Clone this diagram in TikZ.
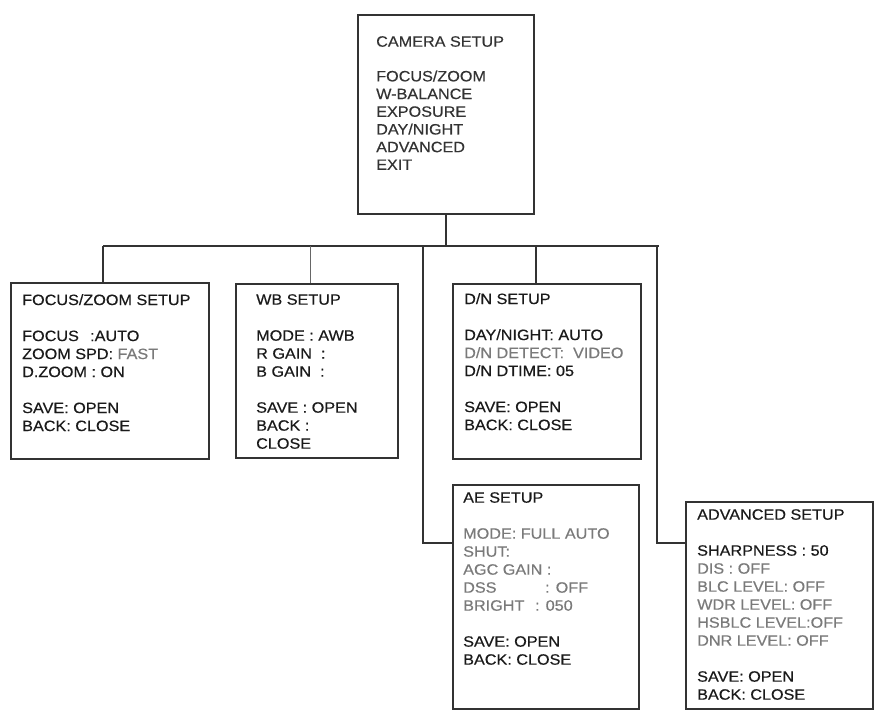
\documentclass[tikz,border=0pt]{standalone}
\usepackage{fontspec}
\setmainfont{Liberation Sans}[FakeStretch=1.08,FakeBold=0.4]
\usetikzlibrary{calc}
\definecolor{ink}{HTML}{1A1A1A}
\definecolor{dim}{HTML}{7A7A7A}
\definecolor{edge}{HTML}{333333}
\tikzset{
  box/.style={draw=edge, line width=1.6pt, rectangle, inner sep=0pt, anchor=north west},
  menu/.style={anchor=north west, inner sep=0pt, align=left, text=ink, font=\fontsize{15}{18}\selectfont},
  conn/.style={draw=edge, line width=1.6pt},
  thinconn/.style={draw=edge!75, line width=0.9pt},
  bus/.style={draw=edge, line width=2.4pt},
}
\begin{document}
\begin{tikzpicture}[x=1pt,y=-1pt]
\useasboundingbox[fill=white] (0,0) rectangle (879,715);

% boxes
\node[box, minimum width=176pt, minimum height=199pt] (cam) at (357,14) {};
\node[box, minimum width=198pt, minimum height=176pt] (fz) at (10,282) {};
\node[box, minimum width=162pt, minimum height=174pt] (wb) at (235,283) {};
\node[box, minimum width=188pt, minimum height=175pt] (dn) at (452,283) {};
\node[box, minimum width=186pt, minimum height=224pt] (ae) at (452,484) {};
\node[box, minimum width=187pt, minimum height=207pt] (adv) at (685,501) {};

% texts
\node[menu, text=edge, font=\fontsize{15}{17.7}\selectfont] (camtxt) at (376,36) {CAMERA SETUP\\[17pt]FOCUS/ZOOM\\W-BALANCE\\EXPOSURE\\DAY/NIGHT\\ADVANCED\\EXIT};
\node[menu] (fztxt) at (22,294) {FOCUS/ZOOM SETUP\\[18pt]\makebox[68pt][l]{FOCUS}:AUTO\\ZOOM SPD: \textcolor{dim}{FAST}\\D.ZOOM : ON\\[18pt]SAVE: OPEN\\BACK: CLOSE};
\node[menu] (wbtxt) at (256,294) {WB SETUP\\[18pt]MODE : AWB\\R GAIN \ :\\B GAIN \ :\\[18pt]SAVE : OPEN\\BACK :\\CLOSE};
\node[menu] (dntxt) at (464,293) {D/N SETUP\\[18pt]DAY/NIGHT: AUTO\\\textcolor{dim}{D/N DETECT: \ VIDEO}\\D/N DTIME: 05\\[18pt]SAVE: OPEN\\BACK: CLOSE};
\node[menu] (aetxt) at (463,492) {AE SETUP\\[18pt]\textcolor{dim}{MODE: FULL AUTO}\\\textcolor{dim}{SHUT:}\\\textcolor{dim}{AGC GAIN :}\\\textcolor{dim}{\makebox[82pt][l]{DSS}: OFF}\\\textcolor{dim}{\makebox[72pt][l]{BRIGHT}: 050}\\[18pt]SAVE: OPEN\\BACK: CLOSE};
\node[menu] (advtxt) at (697,509) {ADVANCED SETUP\\[18pt]SHARPNESS : 50\\\textcolor{dim}{DIS : OFF}\\\textcolor{dim}{BLC LEVEL: OFF}\\\textcolor{dim}{WDR LEVEL: OFF}\\\textcolor{dim}{HSBLC LEVEL:OFF}\\\textcolor{dim}{DNR LEVEL: OFF}\\[18pt]SAVE: OPEN\\BACK: CLOSE};

% connectors
\coordinate (busL) at (103,246);
\coordinate (busR) at (659,246);
\coordinate (aetap) at (423,246);
\coordinate (advtap) at (657,246);
\coordinate (fzin) at ($(fz.north west)+(93,0)$);
\coordinate (wbin) at ($(wb.north west)+(75,0)$);
\coordinate (dnin) at ($(dn.north west)+(84,0)$);
\coordinate (aein) at ($(ae.north west)+(0,59)$);
\coordinate (advin) at ($(adv.north west)+(0,42)$);

\draw[bus] (busL) -- (busR);
\draw[conn] (cam.south) -- (cam.south |- busL);
\draw[conn] (busL) -- (fzin);
\draw[thinconn] (wbin |- busL) -- (wbin);
\draw[conn] (dnin |- busL) -- (dnin);
\draw[conn] (aetap) |- (aein);
\draw[conn] (advtap) |- (advin);
\end{tikzpicture}
\end{document}
